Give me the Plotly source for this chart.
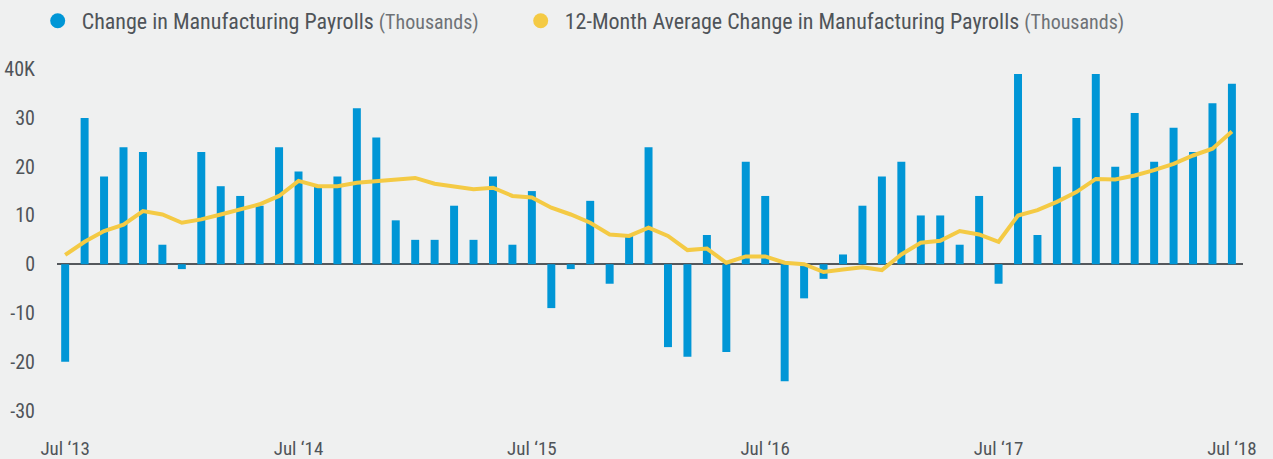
import plotly.graph_objects as go

# ---- data -----------------------------------------------------------------
all_months = [f"{y}-{m:02d}" for y in range(2013, 2019) for m in range(1, 13)]
months = all_months[6:67]  # Jul 2013 .. Jul 2018

payroll_change = [
    -20, 30, 18, 24, 23, 4, -1, 23, 16, 14, 12, 24,
    19, 16, 18, 32, 26, 9, 5, 5, 12, 5, 18, 4,
    15, -9, -1, 13, -4, 6, 24, -17, -19, 6, -18, 21,
    14, -24, -7, -3, 2, 12, 18, 21, 10, 10, 4, 14,
    -4, 39, 6, 20, 30, 39, 20, 31, 21, 28, 23, 33,
    37,
]

avg_change = [
    1.9, 4.6, 6.8, 8.1, 10.9, 10.2, 8.5, 9.2, 10.2, 11.3, 12.3, 14.0,
    17.1, 16.0, 16.0, 16.7, 17.1, 17.4, 17.7, 16.5, 16.0, 15.4, 15.7, 14.0,
    13.7, 11.6, 10.2, 8.5, 6.1, 5.8, 7.5, 5.8, 2.9, 3.2, 0.3, 1.6,
    1.6, 0.3, 0.0, -1.6, -1.1, -0.6, -1.2, 2.0, 4.4, 4.8, 6.8, 6.1,
    4.6, 10.0, 11.1, 12.8, 14.8, 17.5, 17.4, 18.2, 19.3, 20.6, 22.3, 23.7,
    27.2,
]

x_tick_vals = [months[i] for i in (0, 12, 24, 36, 48, 60)]
x_tick_text = ["Jul \u201813", "Jul \u201814", "Jul \u201815",
               "Jul \u201816", "Jul \u201817", "Jul \u201818"]
y_tick_vals = [-30, -20, -10, 0, 10, 20, 30, 40]
y_tick_text = ["-30", "-20", "-10", "0", "10", "20", "30", "40K"]

bar_name = "Change in Manufacturing Payrolls"
line_name = "12-Month Average Change in Manufacturing Payrolls"
unit_note = "(Thousands)"

# ---- style ----------------------------------------------------------------
BLUE = "#0096d6"
YELLOW = "#f4ca44"
BG = "#eff0f0"
TEXT = "#4f5459"
LIGHT_TEXT = "#6e7276"
FONT = "Liberation Sans Narrow, Roboto Condensed, DejaVu Sans Condensed, sans-serif"

fig = go.Figure()

fig.add_trace(go.Bar(
    x=months, y=payroll_change, marker=dict(color=BLUE, line=dict(width=0)),
    showlegend=False, hoverinfo="x+y",
))
fig.add_trace(go.Scatter(
    x=months, y=avg_change, mode="lines",
    line=dict(color=YELLOW, width=4), showlegend=False, hoverinfo="x+y",
))

# legend entries with round markers, each in its own legend box
for name, color, leg in ((bar_name, BLUE, "legend"), (line_name, YELLOW, "legend2")):
    fig.add_trace(go.Scatter(
        x=[None], y=[None], mode="markers",
        marker=dict(color=color, size=15),
        name=(f"{name} <span style='color:{LIGHT_TEXT};font-size:20px'>"
              f"{unit_note}</span>"),
        legend=leg,
    ))

PLOT_W = 1273 - 57 - 30
PLOT_H = 459 - 57 - 29


def leg_x(px):
    return (px - 57) / PLOT_W


legend_common = dict(
    orientation="h", xanchor="left", y=1 + 36 / PLOT_H, yanchor="middle",
    font=dict(size=22, color=TEXT), itemwidth=38,
    bgcolor="rgba(0,0,0,0)", borderwidth=0,
)

fig.update_layout(
    width=1273, height=459,
    paper_bgcolor=BG, plot_bgcolor=BG,
    margin=dict(l=57, r=30, t=57, b=29, autoexpand=False),
    font=dict(family=FONT, color=TEXT, size=20),
    bargap=0.59,
    legend=dict(x=leg_x(33.7), **legend_common),
    legend2=dict(x=leg_x(516.7), **legend_common),
    xaxis=dict(
        type="category", range=[-0.42, 60.57],
        tickvals=x_tick_vals, ticktext=x_tick_text,
        showgrid=False, zeroline=False, showline=False,
        ticks="", ticklabelstandoff=5, tickfont=dict(size=19, color=TEXT),
    ),
    yaxis=dict(
        range=[-34, 42.5], tickvals=y_tick_vals, ticktext=y_tick_text,
        showgrid=False, zeroline=True, zerolinecolor="#54585c", zerolinewidth=2,
        showline=False, ticks="", ticklabelstandoff=21,
        tickfont=dict(size=20, color=TEXT),
    ),
)

fig.write_html(
    "out.html",
    config={"displayModeBar": False},
    post_script="document.body.style.margin='0';document.body.style.background='%s';" % BG,
)
